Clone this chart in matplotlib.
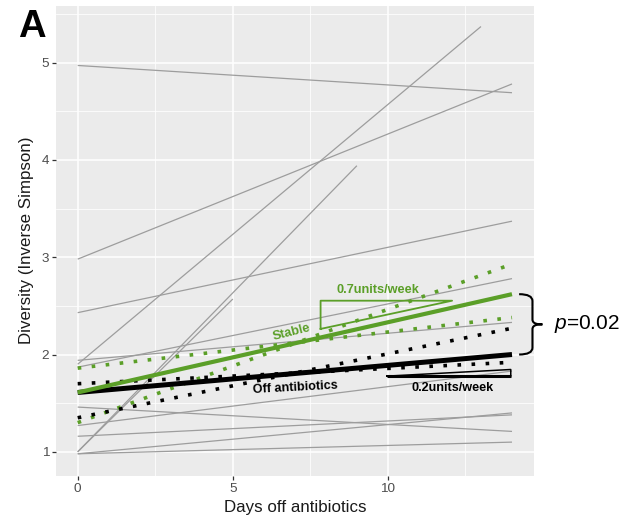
import matplotlib
matplotlib.use("Agg")
import matplotlib.pyplot as plt
from matplotlib.path import Path
from matplotlib.patches import PathPatch
from matplotlib.ticker import MultipleLocator

plt.rcParams['font.family'] = ['Liberation Sans', 'DejaVu Sans']
plt.rcParams['mathtext.fontset'] = 'custom'
plt.rcParams['mathtext.it'] = 'Liberation Sans:italic'
plt.rcParams['mathtext.rm'] = 'Liberation Sans'

# ---- individual patient trajectories (start day, start value, end day, end value)
gray_x0 = [0, 0, 0, 0, 0, 0, 0, 0, 0, 0, 0, 0, 0]
gray_y0 = [4.97, 2.98, 2.43, 1.90, 1.00, 1.00, 1.94, 1.87, 1.46, 1.27, 1.16, 0.98, 0.98]
gray_x1 = [14, 14, 14, 13, 9, 5, 14, 14, 14, 14, 14, 14, 14]
gray_y1 = [4.69, 4.78, 3.37, 5.37, 3.94, 2.57, 2.33, 2.78, 1.21, 1.83, 1.38, 1.40, 1.10]

# ---- group fits
fit_days = [0, 14]
stable_fit = [1.61, 2.62]
stable_ci_a = [1.86, 2.38]
stable_ci_b = [1.30, 2.93]
off_fit = [1.61, 2.00]
off_ci_a = [1.70, 1.92]
off_ci_b = [1.35, 2.27]

# ---- slope triangles
green_tri_x = [7.83, 7.83, 12.07, 7.83]
green_tri_y = [2.263, 2.553, 2.553, 2.263]
black_tri_x = [9.97, 13.96, 13.96]
black_tri_y = [1.778, 1.846, 1.778]

# ---- labels
x_ticks = [0, 5, 10]
y_ticks = [1, 2, 3, 4, 5]
p_label = "$p$=0.02"

GREEN = '#5b9f28'
GRAY = '#9d9d9d'

fig = plt.figure(figsize=(6.24, 5.24), dpi=100)
ax = fig.add_axes([0.0897, 0.0922, 0.7656, 0.8971])
ax.set_facecolor('#EBEBEB')
for s in ax.spines.values():
    s.set_visible(False)

ax.set_xlim(-0.7, 14.7)
ax.set_ylim(0.755, 5.585)
ax.set_xticks(x_ticks)
ax.set_yticks(y_ticks)
ax.xaxis.set_minor_locator(MultipleLocator(2.5))
ax.yaxis.set_minor_locator(MultipleLocator(0.5))
ax.grid(which='major', color='white', lw=1.1)
ax.grid(which='minor', color='white', lw=0.55)
ax.set_axisbelow(True)
ax.tick_params(which='major', length=2.8, width=0.9, color='#333333',
               labelcolor='#4D4D4D', labelsize=9.7, pad=2.2)
ax.tick_params(which='minor', length=0)

for x0, y0, x1, y1 in zip(gray_x0, gray_y0, gray_x1, gray_y1):
    ax.plot([x0, x1], [y0, y1], color=GRAY, lw=0.9, solid_capstyle='butt')

dot = (0, (1, 2.9))
ax.plot(fit_days, stable_ci_a, color=GREEN, lw=2.6, linestyle=dot)
ax.plot(fit_days, stable_ci_b, color=GREEN, lw=2.6, linestyle=dot)
ax.plot(fit_days, off_ci_a, color='black', lw=2.6, linestyle=dot)
ax.plot(fit_days, off_ci_b, color='black', lw=2.6, linestyle=dot)

ax.plot(fit_days, off_fit, color='black', lw=3.6, solid_capstyle='butt')
ax.plot(fit_days, stable_fit, color=GREEN, lw=3.0, solid_capstyle='butt')

ax.plot(green_tri_x, green_tri_y, color=GREEN, lw=1.3)
ax.plot(black_tri_x + [black_tri_x[0]], black_tri_y + [black_tri_y[0]],
        color='black', lw=1.1)
ax.plot([black_tri_x[0], black_tri_x[2]], [black_tri_y[0], black_tri_y[2]],
        color='black', lw=2.2, solid_capstyle='butt')

ax.text(9.69, 2.668, '0.7units/week', color=GREEN, fontsize=9.2,
        fontweight='bold', ha='center', va='center')
ax.text(6.89, 2.23, 'Stable', color=GREEN, fontsize=9.3, fontweight='bold',
        ha='center', va='center', rotation=14)
ax.text(7.02, 1.657, 'Off antibiotics', color='black', fontsize=9.1,
        fontweight='bold', ha='center', va='center', rotation=3)
ax.text(12.07, 1.652, '0.2units/week', color='black', fontsize=9.1,
        fontweight='bold', ha='center', va='center')

# curly brace joining the two fitted end points
top, bot = stable_fit[-1], off_fit[-1]
mid = (top + bot) / 2
xt, xb, xp = 14.23, 14.66, 14.98
verts = [(xt, top), (xb, top), (xb, top - 0.07),
         (xb, mid + 0.05),
         (xb, mid), (xp - 0.1, mid), (xp, mid),
         (xp - 0.1, mid), (xb, mid), (xb, mid - 0.05),
         (xb, bot + 0.07),
         (xb, bot), (xt, bot)]
codes = [Path.MOVETO, Path.CURVE3, Path.CURVE3,
         Path.LINETO,
         Path.CURVE4, Path.CURVE4, Path.CURVE4,
         Path.CURVE4, Path.CURVE4, Path.CURVE4,
         Path.LINETO,
         Path.CURVE3, Path.CURVE3]
ax.add_patch(PathPatch(Path(verts, codes), fill=False, lw=1.5,
                       edgecolor='black', clip_on=False))
ax.text(15.37, mid, p_label, fontsize=15, ha='left', va='center',
        color='black', clip_on=False)

ax.set_xlabel('Days off antibiotics', fontsize=12.2, color='#1a1a1a', labelpad=4)
ax.set_ylabel('Diversity (Inverse Simpson)', fontsize=12.2, color='#1a1a1a',
              labelpad=5)

fig.text(18 / 624, 1 - 37 / 524, 'A', fontsize=27.5, fontweight='bold',
         ha='left', va='baseline')

fig.savefig('out.png', dpi=100)
